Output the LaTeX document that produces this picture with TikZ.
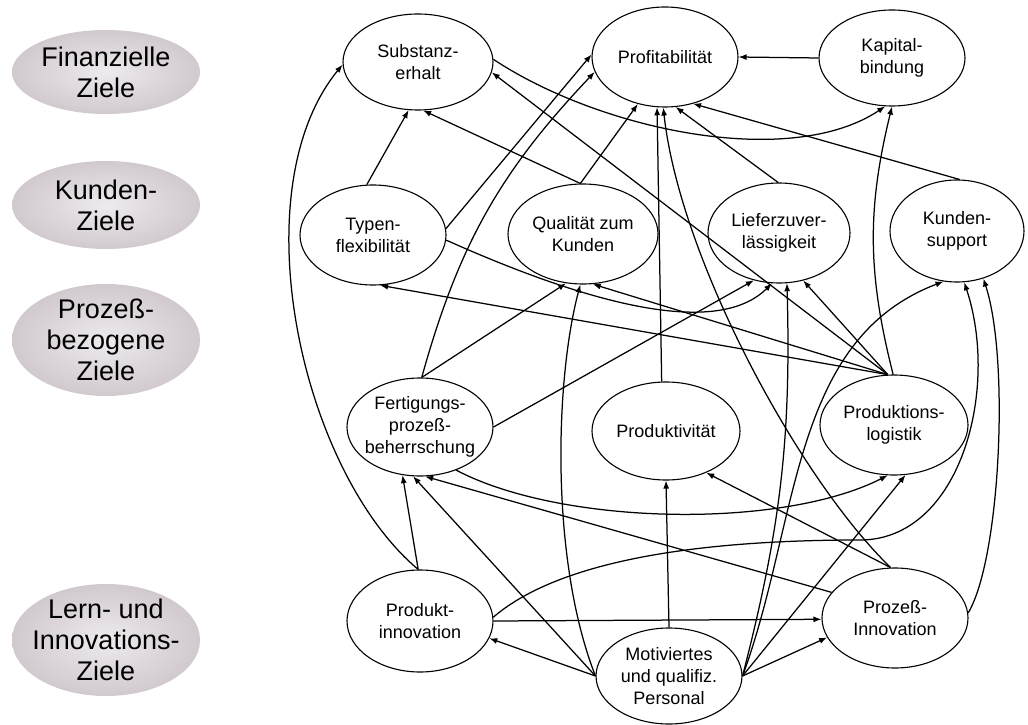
\documentclass[tikz,border=0pt]{standalone}
\usepackage{fontspec}
\setmainfont{Liberation Sans}
\usetikzlibrary{arrows.meta,shapes.geometric}
\definecolor{goalin}{RGB}{238,234,237}
\definecolor{goalmid}{RGB}{205,197,203}
\definecolor{goalout}{RGB}{158,148,156}
\pgfdeclareradialshading{goalshade}{\pgfpoint{0bp}{0bp}}{%
  color(0bp)=(goalin); color(28bp)=(goalmid); color(50bp)=(goalout); color(72bp)=(goalout)}
\begin{document}
\begin{tikzpicture}[x=1pt,y=1pt,
  goal/.style={ellipse, inner sep=0pt, minimum width=188pt, shading=goalshade},
  goaltext/.style={inner sep=0pt, align=center, font=\fontsize{27}{31}\selectfont},
  obj/.style={ellipse, draw, line width=1.1pt, fill=white, inner sep=0pt},
  objtext/.style={inner sep=0pt, align=center, font=\fontsize{18}{22}\selectfont},
  link/.style={line width=1.25pt, -{Latex[length=8pt,width=6pt]}}
]
\useasboundingbox (0,0) rectangle (1028,724);
\fill[white] (0,0) rectangle (1028,724);

% perspective labels on the left
\node[goal, minimum height=84pt]  (fin)  at (106,652) {};
\node[goaltext] (fin-t)  at (fin)  {Finanzielle\\Ziele};
\node[goal, minimum height=88pt]  (kun)  at (106,519) {};
\node[goaltext] (kun-t)  at (kun)  {Kunden-\\Ziele};
\node[goal, minimum height=112pt] (proz) at (106,384) {};
\node[goaltext] (proz-t) at (proz) {Prozeß-\\bezogene\\Ziele};
\node[goal, minimum height=112pt] (lern) at (106,84)  {};
\node[goaltext] (lern-t) at (lern) {Lern- und\\Innovations-\\Ziele};

% objectives
\node[obj, minimum width=150pt, minimum height=96pt]  (S)    at (418,662) {};
\node[objtext] (S-t)    at (S)    {Substanz-\\erhalt};
\node[obj, minimum width=146pt, minimum height=100pt] (P)    at (665,667) {};
\node[objtext] (P-t)    at (P)    {Profitabilität};
\node[obj, minimum width=146pt, minimum height=96pt]  (K)    at (892,666) {};
\node[objtext] (K-t)    at (K)    {Kapital-\\bindung};
\node[obj, minimum width=146pt, minimum height=100pt] (T)    at (373,489) {};
\node[objtext] (T-t)    at (T)    {Typen-\\flexibilität};
\node[obj, minimum width=150pt, minimum height=100pt] (Q)    at (583,490) {};
\node[objtext] (Q-t)    at (Q)    {Qualität zum\\Kunden};
\node[obj, minimum width=142pt, minimum height=100pt] (L)    at (779,491) {};
\node[objtext] (L-t)    at (L)    {Lieferzuver-\\lässigkeit};
\node[obj, minimum width=134pt, minimum height=102pt] (KS)   at (957,493) {};
\node[objtext] (KS-t)   at (KS)   {Kunden-\\support};
\node[obj, minimum width=146pt, minimum height=98pt]  (F)    at (420,297) {};
\node[objtext] (F-t)    at (F)    {Fertigungs-\\prozeß-\\beherrschung};
\node[obj, minimum width=148pt, minimum height=98pt]  (Pd)   at (666,293) {};
\node[objtext] (Pd-t)   at (Pd)   {Produktivität};
\node[obj, minimum width=148pt, minimum height=100pt] (PL)   at (894,299) {};
\node[objtext] (PL-t)   at (PL)   {Produktions-\\logistik};
\node[obj, minimum width=146pt, minimum height=102pt] (PI)   at (420,103) {};
\node[objtext] (PI-t)   at (PI)   {Produkt-\\innovation};
\node[obj, minimum width=146pt, minimum height=100pt] (PzI)  at (895,106) {};
\node[objtext] (PzI-t)  at (PzI)  {Prozeß-\\Innovation};
\node[obj, minimum width=146pt, minimum height=96pt]  (Pers) at (669,48)  {};
\node[objtext] (Pers-t) at (Pers) {Motiviertes\\und qualifiz.\\Personal};

% cause-effect links
\draw[link] (PI.92) .. controls (300,254) and (240,534) .. (S.182);
\draw[link] (T.97) -- (S.259);
\draw[link] (Q.93) -- (S.276);
\draw[link] (S.2) .. controls (600,594) and (790,554) .. (K.262);
\draw[link] (PL.97) -- (S.-8);
\draw[link] (K.180) -- (P.0);
\draw[link] (T.5) -- (P.178);
\draw[link] (F.88) to[bend left=14] (P.192);
\draw[link] (Q.93) -- (P.240);
\draw[link] (Pd.95) -- (P.261);
\draw[link] (PzI.95) .. controls (800,244) and (680,464) .. (P.268);
\draw[link] (L.91) -- (P.282);
\draw[link] (KS.87) -- (P.301);
\draw[link] (PL.91) to[bend left=14] (K.270);
\draw[link] (PL.97) -- (T.278);
\draw[link] (PL.97) -- (Q.281);
\draw[link] (PL.97) -- (L.297);
\draw[link] (F.88) -- (Q.251);
\draw[link] (T.-4) .. controls (580,424) and (715,384) .. (L.262);
\draw[link] (F.0) -- (L.242);
\draw[link] (Pers.180) .. controls (550,164) and (555,344) .. (Q.267);
\draw[link] (Pers.0) to[bend right=8] (L.279);
\draw[link] (Pers.0) .. controls (800,204) and (790,384) .. (KS.255);
\draw[link] (PI.3) .. controls (560,164) and (700,184) .. (860,184)
                   .. controls (960,184) and (1000,334) .. (KS.278);
\draw[link] (PzI.4) .. controls (1000,164) and (1010,364) .. (KS.299);
\draw[link] (F.-50) .. controls (560,199) and (780,194) .. (PL.263);
\draw[link] (Pers.0) -- (PL.283);
\draw[link] (PzI.95) -- (Pd.-46);
\draw[link] (Pers.north) -- (Pd.south);
\draw[link] (PI.92) -- (F.250);
\draw[link] (Pers.180) -- (F.262);
\draw[link] (PzI.158) -- (F.276);
\draw[link] (Pers.180) -- (PI.-14);
\draw[link] (PI.0) -- (PzI.181);
\draw[link] (Pers.0) -- (PzI.196);
\end{tikzpicture}
\end{document}
